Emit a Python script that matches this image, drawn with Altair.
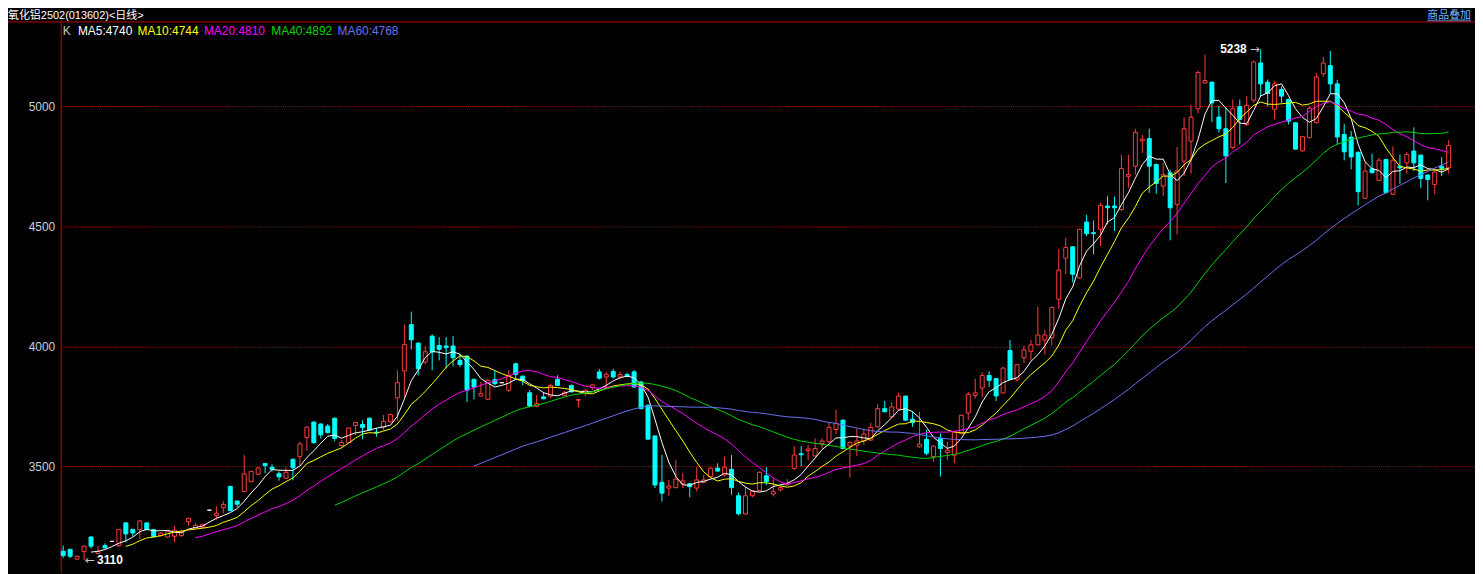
import altair as alt
import pandas as pd

# ---- daily candles ----
opens = [3147,3155,3114,3146,3206,3137,3170,3188,3170,3265,3238,3237,3265,3237,3212,3206,3209,3212,3270,3244,
         3247,3318,3295,3328,3417,3356,3396,3437,3468,3512,3497,3470,3451,3530,3541,3621,3685,3677,3668,3701,
         3587,3599,3671,3675,3701,3643,3664,3686,3786,3898,4091,4014,3935,4043,4004,4002,4002,3942,3960,3863,
         3794,3780,3862,3849,3818,3928,3876,3807,3751,3790,3793,3863,3795,3838,3776,3804,3829,3894,3873,3896,
         3873,3883,3894,3852,3755,3627,3434,3410,3412,3428,3428,3410,3433,3458,3493,3465,3488,3378,3302,3378,
         3400,3461,3385,3403,3423,3492,3553,3566,3544,3596,3603,3654,3693,3585,3589,3607,3610,3665,3741,3707,
         3739,3793,3697,3582,3613,3541,3617,3558,3547,3637,3723,3796,3827,3879,3866,3806,3983,3861,3953,3980,
         4007,4027,4036,4197,4368,4415,4285,4518,4474,4488,4585,4585,4571,4709,4751,4857,4866,4758,4668,4723,
         4592,4772,4855,4990,5098,5101,4956,4907,4829,4999,4925,5026,5181,5101,4988,5071,5029,4932,4815,4870,
         4932,5136,5170,5094,4883,4872,4809,4617,4740,4692,4779,4634,4751,4765,4814,4797,4714,4675,4751,4744]
highs = [3171,3157,3129,3170,3209,3169,3180,3188,3240,3267,3240,3278,3267,3240,3226,3232,3253,3237,3287,3266,
         3261,3318,3334,3356,3420,3358,3548,3482,3497,3515,3509,3479,3497,3533,3603,3668,3688,3680,3677,3704,
         3610,3663,3686,3693,3704,3660,3714,3720,3901,4091,4145,4017,4000,4050,4039,4039,4043,3970,3963,3866,
         3852,3862,3901,3849,3901,3932,3880,3818,3797,3811,3845,3880,3815,3841,3779,3821,3843,3907,3894,3907,
         3894,3891,3901,3856,3758,3630,3548,3444,3527,3472,3431,3499,3465,3497,3513,3541,3548,3392,3416,3401,
         3479,3497,3451,3415,3447,3585,3585,3589,3617,3617,3686,3737,3696,3604,3658,3658,3682,3759,3773,3769,
         3808,3796,3728,3728,3652,3588,3638,3603,3647,3716,3810,3866,3893,3896,3869,3914,4027,3927,4004,4027,
         4166,4069,4166,4405,4453,4418,4491,4548,4525,4599,4626,4624,4799,4799,4907,4882,4907,4762,4765,4737,
         4831,4954,5007,5149,5216,5104,5001,4994,5029,5029,5043,5192,5238,5112,5105,5084,5032,4935,4877,5001,
         5140,5206,5231,5111,4927,4897,4812,4769,4804,4786,4782,4834,4800,4811,4913,4800,4717,4730,4789,4859]
lows = [3119,3118,3111,3110,3159,3136,3159,3188,3164,3184,3209,3198,3234,3205,3209,3203,3184,3208,3253,3242,
        3244,3318,3278,3305,3313,3329,3394,3434,3465,3472,3479,3441,3448,3443,3506,3566,3596,3616,3638,3605,
        3580,3596,3631,3613,3649,3624,3652,3683,3690,3790,3988,3880,3928,3901,3942,3908,3918,3914,3769,3780,
        3792,3777,3838,3849,3811,3866,3838,3748,3748,3781,3787,3836,3793,3809,3746,3793,3818,3862,3831,3866,
        3866,3872,3828,3739,3611,3410,3354,3378,3409,3410,3372,3396,3430,3451,3478,3458,3382,3296,3299,3372,
        3396,3423,3375,3396,3420,3486,3502,3527,3541,3575,3599,3635,3571,3454,3544,3590,3606,3662,3726,3704,
        3737,3690,3665,3579,3548,3520,3458,3527,3513,3634,3693,3783,3787,3831,3773,3803,3860,3854,3931,3942,
        4004,3966,4004,4156,4301,4267,4282,4460,4384,4419,4509,4481,4564,4661,4716,4806,4640,4636,4626,4442,
        4467,4709,4720,4972,5095,4935,4891,4681,4822,4842,4918,5015,5043,5001,4946,5015,4925,4820,4812,4867,
        4929,5123,5056,4841,4775,4738,4588,4614,4721,4689,4637,4631,4678,4720,4731,4661,4609,4634,4710,4720]
closes = [3129,3126,3126,3168,3168,3146,3161,3188,3238,3219,3223,3273,3237,3208,3222,3229,3235,3226,3284,3255,
          3258,3318,3305,3342,3316,3343,3469,3480,3494,3504,3488,3457,3476,3495,3594,3664,3599,3632,3641,3617,
          3600,3660,3683,3663,3652,3640,3688,3717,3849,4008,4028,3907,3978,3977,3988,3995,3953,3925,3818,3831,
          3804,3859,3845,3849,3880,3884,3859,3751,3762,3782,3838,3838,3807,3811,3779,3818,3840,3868,3884,3873,
          3883,3876,3831,3741,3614,3423,3389,3419,3447,3440,3416,3444,3444,3493,3481,3497,3412,3303,3378,3398,
          3476,3437,3395,3412,3430,3548,3549,3573,3575,3606,3663,3679,3575,3600,3606,3635,3663,3741,3728,3748,
          3793,3693,3683,3593,3555,3585,3575,3568,3644,3713,3801,3807,3879,3859,3794,3910,3863,3924,3986,4007,
          4048,4048,4163,4318,4412,4301,4488,4470,4470,4588,4578,4578,4741,4716,4892,4864,4751,4679,4716,4578,
          4730,4907,4955,5141,5108,5015,4907,4794,4990,4946,5004,5185,5094,5054,5094,5043,4939,4822,4874,4992,
          5123,5181,5094,4873,4811,4790,4645,4731,4724,4776,4641,4776,4744,4800,4765,4700,4696,4727,4742,4837]

ma_periods = [5, 10, 20, 40, 60]
ma_colors = ["#ffffff", "#ffff00", "#ff00ff", "#00d400", "#6a70f0"]
legend_texts = ["MA5:4740", "MA10:4744", "MA20:4810", "MA40:4892", "MA60:4768"]
y_ticks = [3500, 4000, 4500, 5000]
title_text = "氧化铝2502(013602)<日线>"
link_text = "商品叠加"

n = len(closes)
df = pd.DataFrame({"i": list(range(n)), "open": opens, "high": highs, "low": lows, "close": closes})
df["dir"] = ["up" if c > o else ("down" if c < o else "flat") for o, c in zip(opens, closes)]

W, H = 1421, 554
xs = alt.Scale(domain=[-1.5 / 7, -1.5 / 7 + W / 7], nice=False, zero=False)
ys = alt.Scale(domain=[3058.5, 5354.0], nice=False, zero=False)
y_axis = alt.Axis(values=y_ticks, format="d", title=None, grid=True, gridColor="#b00000", gridDash=[1, 1],
                  gridWidth=1, ticks=False, labelColor="#c4d0dc", labelFont="Liberation Sans",
                  labelFontSize=12, labelPadding=6, domainColor="#d00000", domainWidth=1, offset=1)
dir_dom = ["up", "down", "flat"]

base = alt.Chart(df)

wicks = base.mark_rule(strokeWidth=1).encode(
    x=alt.X("i:Q", scale=xs, axis=None),
    y=alt.Y("low:Q", scale=ys, axis=y_axis),
    y2="high:Q",
    color=alt.Color("dir:N", scale=alt.Scale(domain=dir_dom, range=["#ff3c3c", "#00ffff", "#ffffff"]), legend=None),
)

bodies = base.transform_calculate(
    xl="datum.i - 2/7", xr="datum.i + 2/7"
).mark_rect(strokeWidth=1).encode(
    x=alt.X("xl:Q", scale=xs, axis=None),
    x2="xr:Q",
    y=alt.Y("open:Q", scale=ys, axis=y_axis),
    y2="close:Q",
    fill=alt.Fill("dir:N", scale=alt.Scale(domain=dir_dom, range=["#000000", "#00ffff", "#ffffff"]), legend=None),
    stroke=alt.Stroke("dir:N", scale=alt.Scale(domain=dir_dom, range=["#ff3c3c", "#00ffff", "#ffffff"]), legend=None),
)

layers = [wicks, bodies]
for p, col in zip(ma_periods, ma_colors):
    layers.append(
        base.transform_window(ma="mean(close)", frame=[-(p - 1), 0], sort=[alt.SortField("i")])
        .transform_filter(alt.datum.i >= p - 1)
        .mark_line(color=col, strokeWidth=1)
        .encode(x=alt.X("i:Q", scale=xs, axis=None), y=alt.Y("ma:Q", scale=ys, axis=y_axis))
    )

# high / low annotations
hi_i = max(range(n), key=lambda k: highs[k])
lo_i = min(range(n), key=lambda k: lows[k])
ann = [
    (hi_i, highs[hi_i], str(highs[hi_i]), "right", -14, "Liberation Sans", "bold", "#ffffff"),
    (hi_i, highs[hi_i], "→", "right", -1, "DejaVu Sans", "normal", "#c8c8c8"),
    (lo_i, lows[lo_i], str(lows[lo_i]), "left", 13, "Liberation Sans", "bold", "#ffffff"),
    (lo_i, lows[lo_i], "←", "left", 1, "DejaVu Sans", "normal", "#c8c8c8"),
]
for idx, pv, txt, al, dx, fnt, fw, col in ann:
    d = pd.DataFrame({"i": [idx], "p": [pv], "t": [txt]})
    layers.append(
        alt.Chart(d).mark_text(align=al, baseline="middle", dx=dx, color=col, fontSize=12,
                               fontWeight=fw, font=fnt).encode(
            x=alt.X("i:Q", scale=xs, axis=None), y=alt.Y("p:Q", scale=ys, axis=y_axis), text="t:N")
    )


def label(txt, px, py, color, size=12, font="Liberation Sans", align="left", baseline="middle"):
    return alt.Chart(pd.DataFrame({"t": [txt]})).mark_text(
        align=align, baseline=baseline, color=color, fontSize=size, font=font
    ).encode(x=alt.value(px), y=alt.value(py), text="t:N")


# legend row
layers.append(label("K", 1, 10, "#c8c8c8"))
leg_x = [16.3, 76.3, 143, 210.7, 277.3]
for txt, px, col in zip(legend_texts, leg_x, ma_colors):
    layers.append(label(txt, px, 10, col))

# header
hdr_font = "Liberation Sans, Noto Sans CJK SC"
layers.append(label(title_text, -54, -2, "#ffffff", size=11, font=hdr_font, baseline="alphabetic"))
layers.append(label(link_text, 1417, -2, "#78b4ff", size=11, font=hdr_font, align="right",
                    baseline="alphabetic"))
layers.append(alt.Chart(pd.DataFrame({"a": [0]})).mark_rule(color="#78b4ff", strokeWidth=1).encode(
    x=alt.value(1373), x2=alt.value(1417), y=alt.value(-0.5)))
layers.append(alt.Chart(pd.DataFrame({"a": [0]})).mark_rule(color="#b80000", strokeWidth=1).encode(
    x=alt.value(-54), x2=alt.value(W), y=alt.value(0.5)))

chart = alt.layer(*layers).properties(
    width=W, height=H,
    padding={"left": 54, "top": 12, "right": 0, "bottom": 0},
    autosize=alt.AutoSizeParams(type="none"),
    background="#000000",
).configure_view(stroke=None)

chart.save("out.html", embed_options={"renderer": "svg", "actions": False})
